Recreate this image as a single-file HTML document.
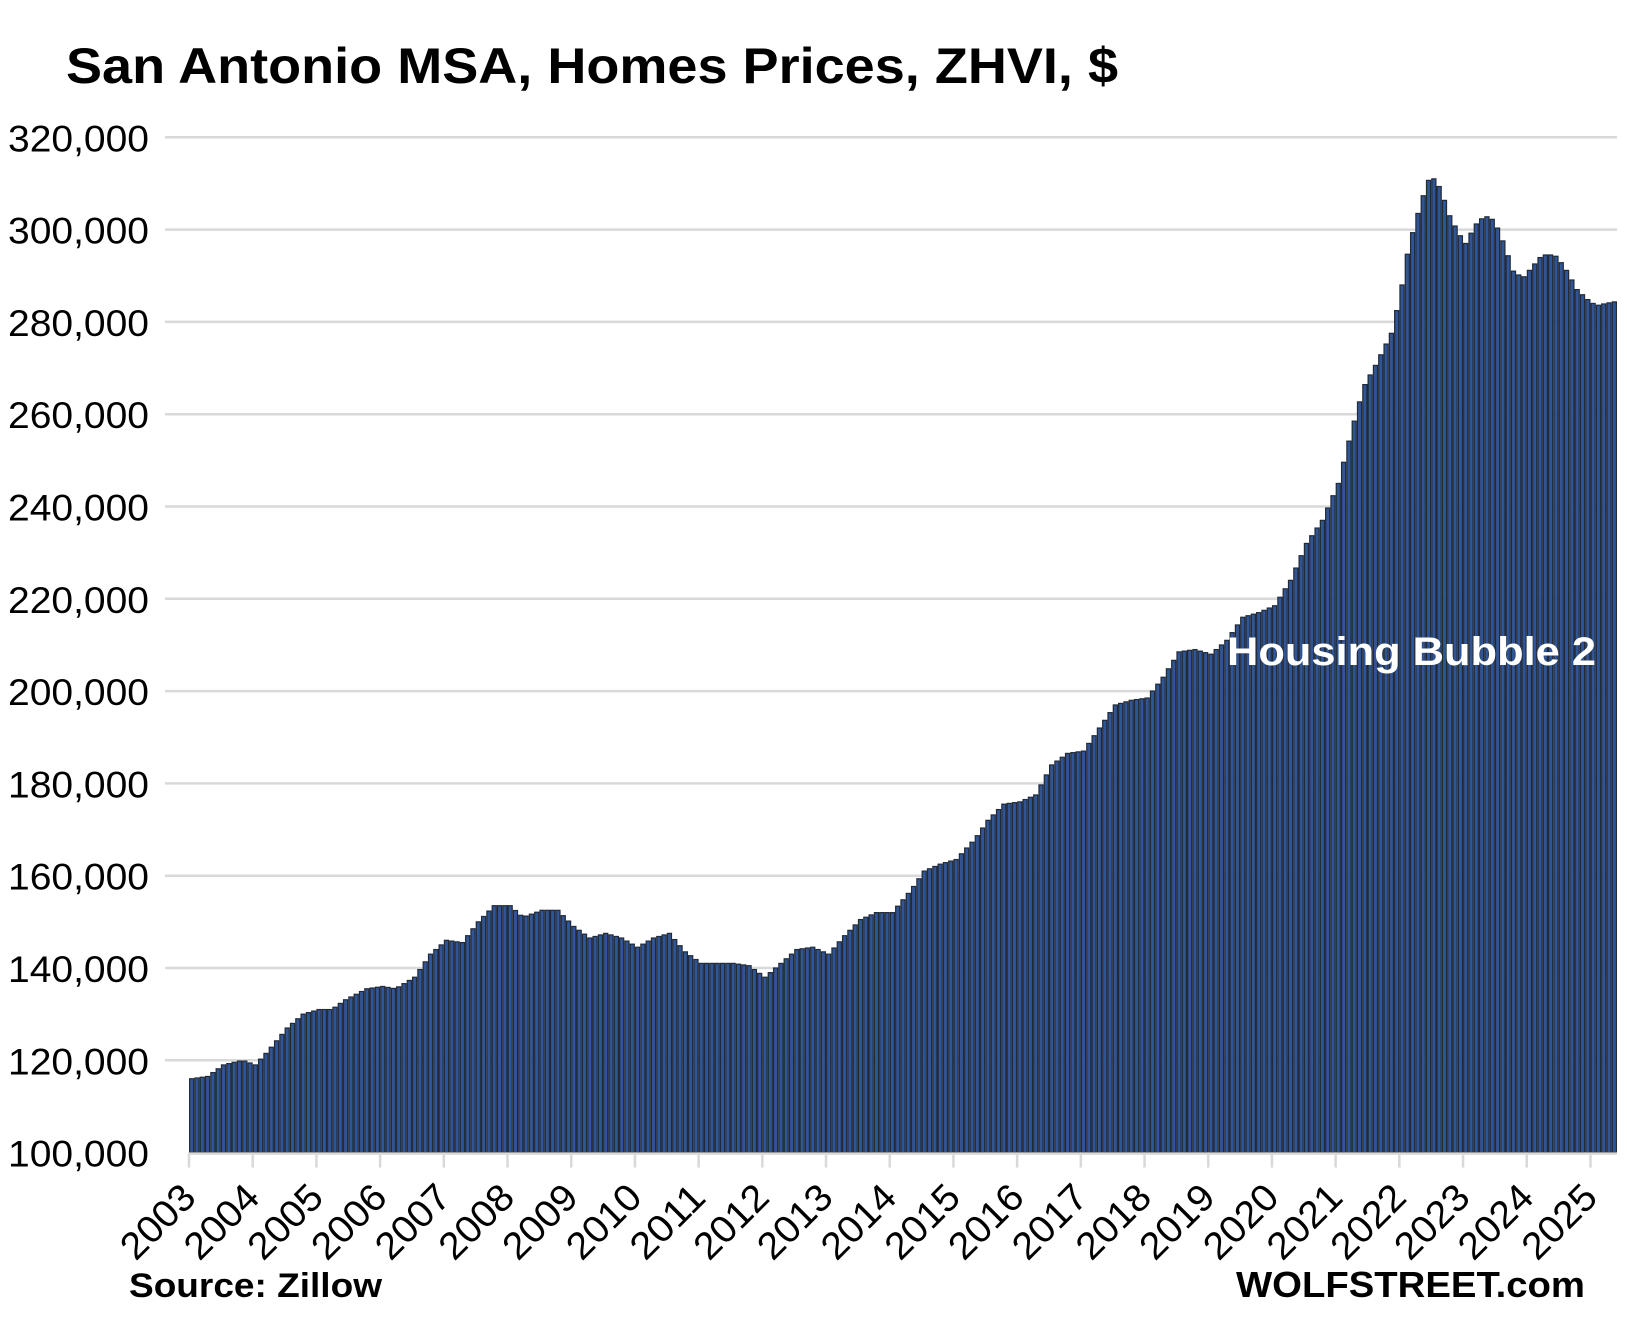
<!DOCTYPE html>
<html><head><meta charset="utf-8"><style>
html,body{margin:0;padding:0;background:#fff;}
svg{display:block;font-family:"Liberation Sans",sans-serif;}
</style></head><body>
<svg id="c" width="1627" height="1339" viewBox="0 0 1627 1339" xmlns="http://www.w3.org/2000/svg">
<text x="66" y="83" font-size="50" font-weight="bold" textLength="1052" lengthAdjust="spacingAndGlyphs">San Antonio MSA, Homes Prices, ZHVI, $</text>
<g id="grid"></g>
<g id="bars"></g>
<g id="ax"></g>
<text x="1227" y="665" font-size="40" font-weight="bold" fill="#fff" textLength="369" lengthAdjust="spacingAndGlyphs">Housing Bubble 2</text>
<text x="129" y="1297" font-size="34" font-weight="bold" textLength="253" lengthAdjust="spacingAndGlyphs">Source: Zillow</text>
<text x="1236" y="1297" font-size="36" font-weight="bold" textLength="349" lengthAdjust="spacingAndGlyphs">WOLFSTREET.com</text>
</svg>
<script>
var NS="http://www.w3.org/2000/svg";
function el(t,a,p,txt){var e=document.createElementNS(NS,t);for(var k in a)e.setAttribute(k,a[k]);if(txt)e.textContent=txt;document.getElementById(p).appendChild(e);return e;}
var X0=189,X1=1617,Y100=1152.6,PX=92.3/20000;
function y(v){return Y100-(v-100000)*PX;}
for(var v=120000;v<=320000;v+=20000){el('line',{x1:165,x2:1617,y1:y(v),y2:y(v),stroke:'#d9d9d9','stroke-width':2.5},'grid');}
for(var v=100000;v<=320000;v+=20000){el('text',{x:149,y:y(v)+14,'font-size':37,'text-anchor':'end',textLength:141,lengthAdjust:'spacingAndGlyphs'},'ax',v.toLocaleString('en-US'));}
var k=[[2003.0,116],[2003.25,116.5],[2003.5,119],[2003.8,120],[2004.0,119],[2004.2,122],[2004.5,127],[2004.75,130],[2005.0,131],[2005.2,131],[2005.4,133],[2005.75,135.5],[2006.0,136],[2006.2,135.5],[2006.5,138],[2006.75,143],[2007.0,146],[2007.25,145.5],[2007.5,150],[2007.75,153.5],[2008.0,153.5],[2008.2,151],[2008.5,152.5],[2008.75,152.5],[2009.0,149],[2009.25,146.5],[2009.5,147.5],[2009.75,146.5],[2010.0,144.5],[2010.25,146.5],[2010.5,147.5],[2010.75,143.5],[2011.0,141],[2011.25,141],[2011.5,141],[2011.75,140.5],[2012.0,138],[2012.25,141],[2012.5,144],[2012.75,144.5],[2013.0,143],[2013.25,147],[2013.5,150.5],[2013.75,152],[2014.0,152],[2014.3,157],[2014.5,161],[2014.75,162.5],[2015.0,163.5],[2015.3,168],[2015.5,172],[2015.75,175.5],[2016.0,176],[2016.25,177.5],[2016.5,184],[2016.75,186.5],[2017.0,187],[2017.25,192],[2017.5,197],[2017.75,198],[2018.0,198.5],[2018.25,203],[2018.5,208.5],[2018.75,209],[2019.0,208],[2019.25,211],[2019.5,216],[2019.75,217],[2020.0,218.5],[2020.25,224],[2020.5,232],[2020.75,237],[2021.0,245],[2021.2,256],[2021.4,266],[2021.6,271],[2021.85,278],[2022.0,288],[2022.1,296],[2022.3,306],[2022.45,312],[2022.6,309],[2022.75,303],[2022.9,299],[2023.0,297],[2023.15,301],[2023.3,303],[2023.45,302],[2023.6,297],[2023.75,291],[2023.9,289.5],[2024.05,292],[2024.2,294.5],[2024.4,294.5],[2024.55,292],[2024.75,287],[2024.9,285],[2025.05,283.5],[2025.2,284],[2025.4,284.5]];
function val(t){for(var i=0;i<k.length-1;i++){if(t<=k[i+1][0]){var a=k[i],b=k[i+1];return a[1]+(b[1]-a[1])*(t-a[0])/(b[0]-a[0]);}}return k[k.length-1][1];}
var N=269,W=(X1-X0)/N;
for(var i=0;i<N;i++){var v=val(2003+i/12)*1000;var yy=y(v);el('rect',{x:X0+i*W+0.6,y:yy,width:W-1.2,height:Y100-yy,fill:'#2f5597',stroke:'#222a38','stroke-width':1.2},'bars');}
el('line',{x1:X0,x2:X1,y1:Y100+1,y2:Y100+1,stroke:'#d9d9d9','stroke-width':2.5},'ax');
for(var yr=2003;yr<=2025;yr++){var tx=X0+(yr-2003)*12*W;el('line',{x1:tx,x2:tx,y1:Y100,y2:Y100+15,stroke:'#d9d9d9','stroke-width':2.5},'ax');
el('text',{x:0,y:0,'font-size':38,'text-anchor':'end',transform:'translate('+(tx+9)+','+(Y100+47)+') rotate(-45)',textLength:88,lengthAdjust:'spacingAndGlyphs'},'ax',String(yr));}
</script>
</body></html>
